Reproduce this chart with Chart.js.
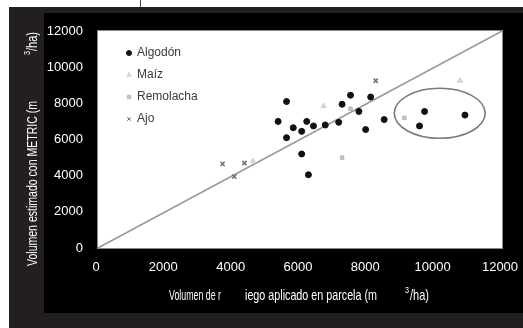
<!DOCTYPE html>
<html lang="es">
<head>
<meta charset="UTF-8" />
<script src="https://cdn.jsdelivr.net/npm/chart.js"></script>
<title>Volumen METRIC vs riego aplicado</title>
<style>
  html, body { margin: 0; padding: 0; background: #fff; }
  #wrap { width: 523px; height: 328px; }
</style>
</head>
<body>
<div id="wrap"><canvas id="chart"></canvas></div>
<script>
  // axis ticks (m3/ha)
  const axisTicks = [0, 2000, 4000, 6000, 8000, 10000, 12000];
  const seriesNames = ["Algodón", "Maíz", "Remolacha", "Ajo"];

  // series values
  const algodonX = [5600, 5350, 5600, 5800, 6050, 6200, 6400, 6750, 7150, 7250, 7500, 7750, 7950, 8100, 8500, 6050, 6250, 9550, 9700, 10900];
  const algodonY = [8100, 7000, 6100, 6650, 6450, 7000, 6750, 6800, 6950, 7950, 8450, 7550, 6550, 8350, 7100, 5200, 4050, 6750, 7550, 7350];
  const maizX = [6700, 10750, 4600];
  const maizY = [7850, 9250, 4800];
  const remolachaX = [7250, 9100, 7500];
  const remolachaY = [5000, 7200, 7700];
  const ajoX = [3700, 4050, 4350, 8250];
  const ajoY = [4650, 3950, 4700, 9250];

  // 1:1 line and the circled group
  const lineX = [0, 12000];
  const lineY = [0, 12000];
  const ellipseCenter = [10150, 7450];
  const ellipseRadius = [1350, 1380];

  const toPoints = (xs, ys) => xs.map((x, i) => ({ x: x, y: ys[i] }));
  const font = "'Liberation Sans', Arial, sans-serif";

  // draw text squeezed to a given width (the original uses a condensed face)
  function fitText(ctx, text, x, y, width) {
    const w = ctx.measureText(text).width;
    ctx.save();
    ctx.translate(x, y);
    ctx.scale(width / w, 1);
    ctx.fillText(text, 0, 0);
    ctx.restore();
  }

  // page frame behind the chart
  const framePlugin = {
    id: "frame",
    beforeDraw(chart) {
      const ctx = chart.ctx;
      ctx.save();
      ctx.fillStyle = "#fff";
      ctx.fillRect(0, 0, 523, 328);
      ctx.fillStyle = "#231f20";
      ctx.fillRect(9, 7, 514, 321);
      ctx.fillStyle = "#000";
      ctx.fillRect(44, 13, 479, 300);
      ctx.strokeStyle = "#444";
      ctx.lineWidth = 1;
      ctx.beginPath();
      ctx.moveTo(140.5, 0);
      ctx.lineTo(140.5, 7);
      ctx.stroke();
      const a = chart.chartArea;
      ctx.fillStyle = "#fff";
      ctx.fillRect(a.left, a.top, a.right - a.left, a.bottom - a.top);
      ctx.restore();
    },
  };

  // ellipse, legend, axis titles
  const overlayPlugin = {
    id: "overlay",
    afterDatasetsDraw(chart) {
      const ctx = chart.ctx;
      const xs = chart.scales.x, ys = chart.scales.y;
      const a = chart.chartArea;
      ctx.save();
      ctx.strokeStyle = "#7a7a7a";
      ctx.lineWidth = 1.6;
      ctx.beginPath();
      const cx = xs.getPixelForValue(ellipseCenter[0]);
      const cy = ys.getPixelForValue(ellipseCenter[1]);
      const rx = xs.getPixelForValue(ellipseCenter[0] + ellipseRadius[0]) - cx;
      const ry = cy - ys.getPixelForValue(ellipseCenter[1] + ellipseRadius[1]);
      ctx.ellipse(cx, cy, rx, ry, 0, 0, Math.PI * 2);
      ctx.stroke();

      ctx.strokeStyle = "#888";
      ctx.lineWidth = 1;
      ctx.strokeRect(a.left - 0.5, a.top - 0.5, a.right - a.left + 1, a.bottom - a.top + 1);

      // legend inside the plot
      const ly = [53, 75, 97, 119];
      chart.data.datasets.forEach((ds, i) => {
        if (i >= seriesNames.length) return;
        ctx.fillStyle = ds.backgroundColor;
        ctx.strokeStyle = ds.borderColor;
        Chart.helpers.drawPoint(ctx, { pointStyle: ds.pointStyle, radius: 2.5, rotation: 0, borderWidth: 1 }, 129, ly[i]);
        ctx.fillStyle = "#3a3a3a";
        ctx.font = "12px " + font;
        ctx.textBaseline = "middle";
        ctx.textAlign = "left";
        ctx.fillText(ds.label, 137, ly[i]);
      });

      // axis titles
      ctx.fillStyle = "#fff";
      ctx.textBaseline = "alphabetic";
      ctx.textAlign = "left";
      ctx.font = "15px " + font;
      fitText(ctx, "Volumen de r", 169, 300, 52);
      fitText(ctx, "iego aplicado en parcela (m", 245, 300, 132);
      ctx.font = "9px " + font;
      fitText(ctx, "3", 405, 293, 4);
      ctx.font = "15px " + font;
      fitText(ctx, "/ha)", 410, 300, 19);

      ctx.translate(37, 266);
      ctx.rotate(-Math.PI / 2);
      fitText(ctx, "Volumen estimado con METRIC (m", 0, 0, 165);
      ctx.font = "9px " + font;
      fitText(ctx, "3", 211, -7, 4);
      ctx.font = "15px " + font;
      fitText(ctx, "/ha)", 215, 0, 19);
      ctx.restore();
    },
  };

  new Chart(document.getElementById("chart"), {
    type: "scatter",
    data: {
      datasets: [
        { label: seriesNames[0], data: toPoints(algodonX, algodonY), pointStyle: "circle", pointRadius: 3, backgroundColor: "#111", borderColor: "#111", borderWidth: 1 },
        { label: seriesNames[1], data: toPoints(maizX, maizY), pointStyle: "triangle", pointRadius: 3, backgroundColor: "#d9d9d9", borderColor: "#d0d0d0", borderWidth: 1 },
        { label: seriesNames[2], data: toPoints(remolachaX, remolachaY), pointStyle: "rect", pointRadius: 2.5, backgroundColor: "#c4c4c4", borderColor: "#bbb", borderWidth: 1 },
        { label: seriesNames[3], data: toPoints(ajoX, ajoY), pointStyle: "crossRot", pointRadius: 3, backgroundColor: "#707070", borderColor: "#707070", borderWidth: 1.5 },
        { label: "1:1", data: toPoints(lineX, lineY), type: "line", showLine: true, pointRadius: 0, borderColor: "#9a9a9a", borderWidth: 1.6, fill: false },
      ],
    },
    options: {
      responsive: true,
      maintainAspectRatio: false,
      animation: false,
      layout: { padding: { top: 31, right: 21, left: 0, bottom: 0 } },
      plugins: { legend: { display: false }, tooltip: { enabled: false } },
      scales: {
        x: {
          type: "linear",
          min: axisTicks[0],
          max: axisTicks[axisTicks.length - 1],
          afterBuildTicks: (s) => { s.ticks = axisTicks.map((v) => ({ value: v })); },
          afterFit: (s) => { s.height = 80; s.paddingLeft = 0; s.paddingRight = 0; },
          grid: { display: false, drawTicks: false },
          border: { display: false },
          ticks: { color: "#fff", font: { family: font, size: 13 }, padding: 12, labelOffset: -2, maxRotation: 0, callback: (v) => String(v) },
        },
        y: {
          type: "linear",
          min: axisTicks[0],
          max: axisTicks[axisTicks.length - 1],
          afterBuildTicks: (s) => { s.ticks = axisTicks.map((v) => ({ value: v })); },
          afterFit: (s) => { s.width = 98; s.paddingTop = 0; s.paddingBottom = 0; },
          grid: { display: false, drawTicks: false },
          border: { display: false },
          ticks: { color: "#fff", font: { family: font, size: 13 }, padding: 15, callback: (v) => String(v) },
        },
      },
    },
    plugins: [framePlugin, overlayPlugin],
  });
</script>
</body>
</html>
